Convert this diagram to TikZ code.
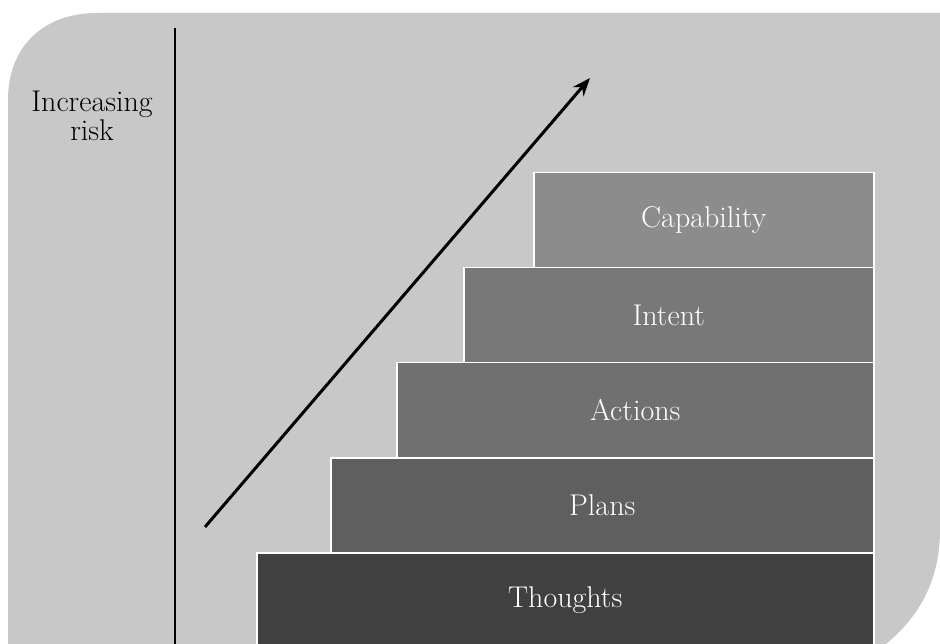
\documentclass[tikz,border=0pt]{standalone}
\usepackage{fontspec}
\usetikzlibrary{arrows.meta}
\definecolor{bgc}{HTML}{C8C8C8}
\definecolor{capc}{HTML}{8C8C8C}
\definecolor{intc}{HTML}{787878}
\definecolor{actc}{HTML}{707070}
\definecolor{plac}{HTML}{5F5F5F}
\definecolor{thoc}{HTML}{404040}
\tikzset{
  stepbox/.style={draw=white, line width=1.5pt, anchor=north west, inner sep=0pt,
    text=white, font=\fontsize{30}{32}\selectfont, minimum height=95pt},
  sidelabel/.style={align=center, font=\fontsize{30}{29}\selectfont, text=black}
}
\begin{document}
\begin{tikzpicture}[x=1pt,y=-1pt]
\useasboundingbox (0,0) rectangle (940,644);
\fill[white] (0,0) rectangle (940,644);
\fill[bgc] (8,644) -- (8,100) .. controls (8,45) and (45,13) .. (97,13) -- (940,13)
  -- (940,530) .. controls (940,585) and (915,620) .. (886,644) -- cycle;
\draw[line width=2pt] (175,28) -- (175,644);
\node[sidelabel] (risk) at (92,116) {Increasing\\risk};
\node[stepbox, fill=thoc, minimum width=617pt] (thoughts) at (256,552) {Thoughts};
\node[stepbox, fill=plac, minimum width=543pt] (plans) at (330,457) {Plans};
\node[stepbox, fill=actc, minimum width=477pt] (actions) at (396,362) {Actions};
\node[stepbox, fill=intc, minimum width=410pt] (intent) at (463,267) {Intent};
\node[stepbox, fill=capc, minimum width=340pt] (capability) at (533,172) {Capability};
\coordinate (a0) at (205,527);
\coordinate (a1) at (590,78);
\draw[line width=3pt, -{Stealth[length=18pt,width=14pt]}] (a0) -- (a1);
\end{tikzpicture}
\end{document}
